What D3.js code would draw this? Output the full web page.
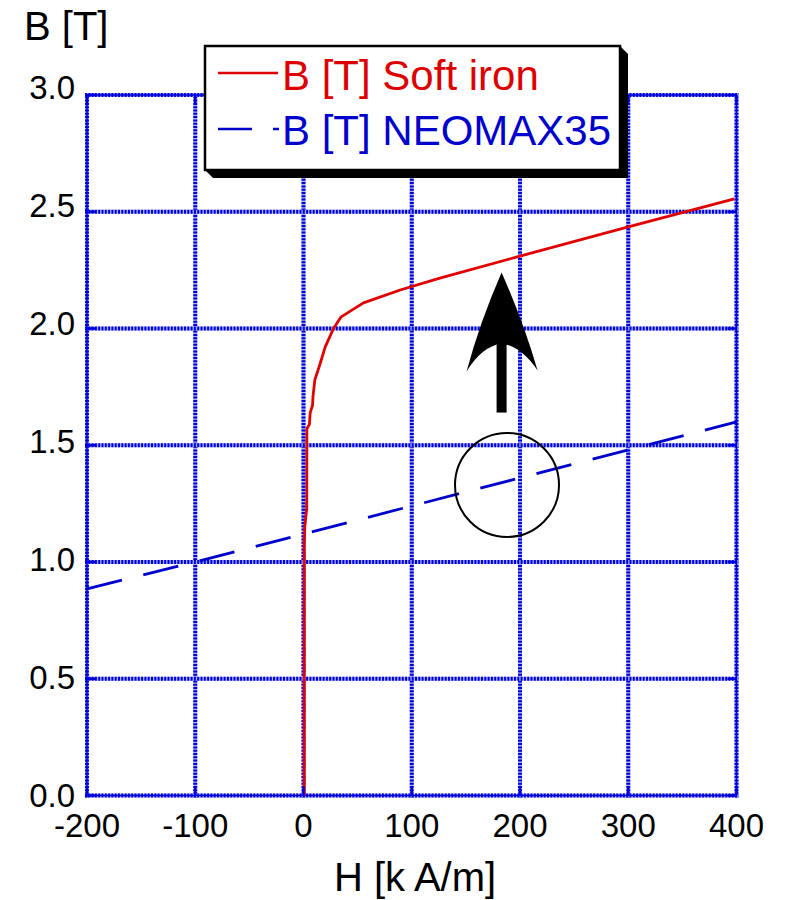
<!DOCTYPE html>
<html><head><meta charset="utf-8">
<script src="https://cdn.jsdelivr.net/npm/d3@7"></script>
<style>body{margin:0;background:#fff}svg{display:block}text{font-family:"Liberation Sans",Arial,sans-serif}</style>
</head><body>
<svg id="c" width="785" height="900"></svg>
<script>
// ---- data ----
const xTicks = [-200, -100, 0, 100, 200, 300, 400];
const yTicks = [0.0, 0.5, 1.0, 1.5, 2.0, 2.5, 3.0];
const softIronH = [0.7, 0.7, 1.2, 3.0, 3.1, 5.5, 6.2, 8.3, 8.8, 10.5, 15.4, 20, 27.7, 34.8, 55.4, 89.3, 126, 200, 300, 398];
const softIronB = [0, 1.07, 1.15, 1.23, 1.57, 1.59, 1.64, 1.67, 1.71, 1.78, 1.85, 1.92, 2.0, 2.05, 2.11, 2.165, 2.216, 2.31, 2.435, 2.555];
const neoH = [-200, -100, 0, 100, 200, 300, 400];
const neoB = [0.885, 1.0, 1.12, 1.24, 1.36, 1.48, 1.60];
const seriesNames = ["B [T] Soft iron", "B [T] NEOMAX35"];
const xTitle = "H [k A/m]", yTitle = "B [T]";
// annotation (data coordinates)
const arrowH = 183, arrowFrom = 1.64, arrowTo = 2.24;
const circleH = 188, circleB = 1.33;

const svg = d3.select("#c");
const x = d3.scaleLinear().domain([-200, 400]).range([87, 736.5]);
const y = d3.scaleLinear().domain([0, 3]).range([795.5, 95]);

const gridDark = "#0000dd", gridLight = "#aab0ec";
const g = svg.append("g");
function dotted(x1, y1, x2, y2) {
  g.append("line").attr("x1", x1).attr("y1", y1).attr("x2", x2).attr("y2", y2)
    .attr("stroke", gridLight).attr("stroke-width", 4);
  g.append("line").attr("x1", x1).attr("y1", y1).attr("x2", x2).attr("y2", y2)
    .attr("stroke", gridDark).attr("stroke-width", 4).attr("stroke-dasharray", "2,1.3");
}
xTicks.forEach(t => dotted(x(t), y(3) - 2, x(t), y(0) + 2));
yTicks.forEach(t => dotted(x(-200) - 2, y(t), x(400) + 2, y(t)));
// solid frame
g.append("rect").attr("x", x(-200)).attr("y", y(3)).attr("width", x(400) - x(-200)).attr("height", y(0) - y(3))
  .attr("fill", "none").attr("stroke", "#0000dd").attr("stroke-width", 1.5);

// series
const line = d3.line().x(d => x(d[0])).y(d => y(d[1]));
svg.append("path").datum(neoH.map((h, i) => [h, neoB[i]]))
  .attr("d", line).attr("fill", "none").attr("stroke", "#0000cc").attr("stroke-width", 2.8)
  .attr("stroke-dasharray", "36,22");
svg.append("path").datum(softIronH.map((h, i) => [h, softIronB[i]]))
  .attr("d", line).attr("fill", "none").attr("stroke", "#e00000").attr("stroke-width", 2.8)
  .attr("stroke-linejoin", "round");

// inward ticks
const tk = svg.append("g").attr("stroke", "#0000dd").attr("stroke-width", 2.5);
xTicks.forEach(t => {
  tk.append("line").attr("x1", x(t)).attr("x2", x(t)).attr("y1", y(0)).attr("y2", y(0) - 9);
  tk.append("line").attr("x1", x(t)).attr("x2", x(t)).attr("y1", y(3)).attr("y2", y(3) + 9);
});
yTicks.forEach(t => {
  tk.append("line").attr("y1", y(t)).attr("y2", y(t)).attr("x1", x(-200)).attr("x2", x(-200) + 9);
  tk.append("line").attr("y1", y(t)).attr("y2", y(t)).attr("x1", x(400)).attr("x2", x(400) - 9);
});

// tick labels
svg.append("g").selectAll("text").data(xTicks).join("text")
  .attr("x", d => x(d)).attr("y", 837).attr("text-anchor", "middle")
  .attr("font-size", 33).attr("fill", "#000").text(d => d);
svg.append("g").selectAll("text").data(yTicks).join("text")
  .attr("x", 75).attr("y", d => y(d) + 11 - 2.5 * d).attr("text-anchor", "end")
  .attr("font-size", 33).attr("fill", "#000").text(d => d.toFixed(1));
svg.append("text").attr("x", 24).attr("y", 40).attr("font-size", 40).text(yTitle);
svg.append("text").attr("x", 415).attr("y", 891).attr("text-anchor", "middle").attr("font-size", 40).text(xTitle);

// annotations: arrow + circle
const ax = x(arrowH), ay0 = y(arrowFrom), ay1 = y(arrowTo);
svg.append("rect").attr("x", ax - 5).attr("y", ay0 - 75).attr("width", 10).attr("height", 75).attr("fill", "#000");
svg.append("path").attr("d",
  `M${ax},${ay1} Q${ax - 22},${ay1 + 50} ${ax - 35},${ay1 + 99} Q${ax - 20},${ay1 + 74} ${ax},${ay1 + 71} Q${ax + 20},${ay1 + 74} ${ax + 36},${ay1 + 98} Q${ax + 22},${ay1 + 50} ${ax},${ay1} Z`)
  .attr("fill", "#000");
svg.append("circle").attr("cx", x(circleH)).attr("cy", y(circleB)).attr("r", 52)
  .attr("fill", "none").attr("stroke", "#000").attr("stroke-width", 2);

// legend
const L = {x0: 205, y0: 46, x1: 620, y1: 170, d: 8};
svg.append("polygon").attr("points",
  `${L.x0},${L.y1} ${L.x0 + L.d},${L.y1 + L.d} ${L.x1 + L.d},${L.y1 + L.d} ${L.x1 + L.d},${L.y0 + L.d} ${L.x1},${L.y0}`)
  .attr("fill", "#000");
svg.append("rect").attr("x", L.x0).attr("y", L.y0).attr("width", L.x1 - L.x0).attr("height", L.y1 - L.y0)
  .attr("fill", "#fff").attr("stroke", "#000").attr("stroke-width", 2.5);
svg.append("line").attr("x1", 218).attr("x2", 278).attr("y1", 73).attr("y2", 73).attr("stroke", "#e00000").attr("stroke-width", 2.5);
svg.append("line").attr("x1", 218).attr("x2", 279).attr("y1", 129).attr("y2", 129).attr("stroke", "#0000cc").attr("stroke-width", 2.5).attr("stroke-dasharray", "34,21");
svg.append("text").attr("x", 282).attr("y", 90).attr("font-size", 42).attr("fill", "#dd0000").text(seriesNames[0]);
svg.append("text").attr("x", 282).attr("y", 145).attr("font-size", 42).attr("fill", "#0000cc").text(seriesNames[1]);
</script>
</body></html>
